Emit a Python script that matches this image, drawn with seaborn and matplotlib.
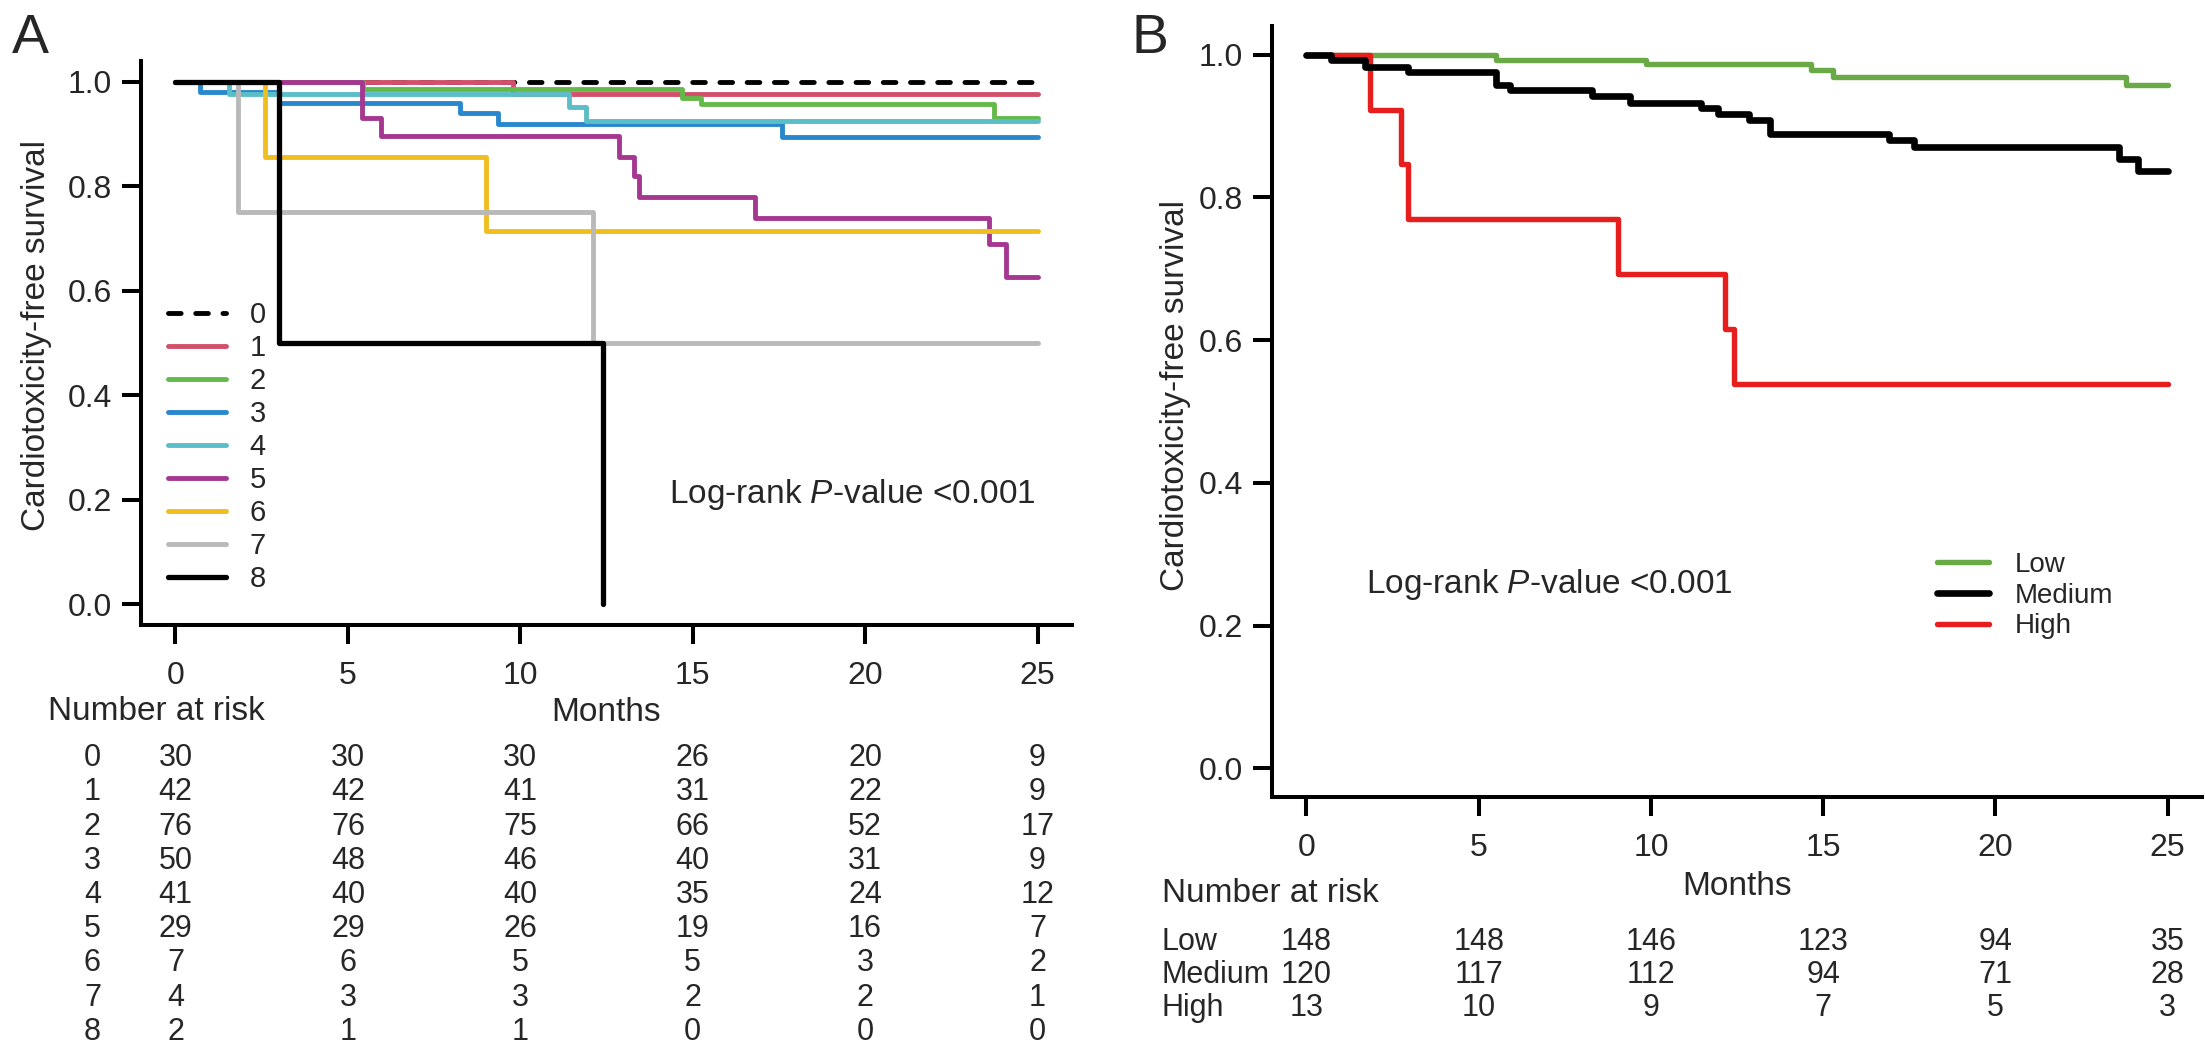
import numpy as np
import pandas as pd
import seaborn as sns
import matplotlib.pyplot as plt
from matplotlib.ticker import FormatStrFormatter

sns.set_style('ticks')
plt.rcParams['font.family'] = ['Liberation Sans', 'DejaVu Sans']
plt.rcParams['mathtext.fontset'] = 'custom'
plt.rcParams['mathtext.rm'] = 'Liberation Sans'
plt.rcParams['mathtext.it'] = 'Liberation Sans:italic'

month_ticks = [0, 5, 10, 15, 20, 25]

# panel A: Kaplan-Meier steps per score group
groups_a = ['0', '1', '2', '3', '4', '5', '6', '7', '8']
t_a0 = [0, 25]
s_a0 = [1.0, 1.0]
t_a1 = [0, 9.8, 25]
s_a1 = [1.0, 0.976, 0.976]
t_a2 = [0, 5.45, 14.7, 15.25, 23.75, 25]
s_a2 = [1.0, 0.987, 0.970, 0.957, 0.930, 0.930]
t_a3 = [0, 0.7, 3.0, 8.25, 9.35, 17.6, 25]
s_a3 = [1.0, 0.980, 0.960, 0.940, 0.920, 0.895, 0.895]
t_a4 = [0, 1.55, 11.4, 11.9, 25]
s_a4 = [1.0, 0.976, 0.951, 0.925, 0.925]
t_a5 = [0, 5.4, 5.95, 12.85, 13.3, 13.45, 16.8, 23.6, 24.1, 25]
s_a5 = [1.0, 0.931, 0.897, 0.857, 0.820, 0.779, 0.739, 0.690, 0.627, 0.627]
t_a6 = [0, 2.6, 9.0, 25]
s_a6 = [1.0, 0.857, 0.714, 0.714]
t_a7 = [0, 1.8, 12.1, 25]
s_a7 = [1.0, 0.75, 0.5, 0.5]
t_a8 = [0, 3.0, 12.4]
s_a8 = [1.0, 0.5, 0.0]
times_a = [t_a0, t_a1, t_a2, t_a3, t_a4, t_a5, t_a6, t_a7, t_a8]
surv_a = [s_a0, s_a1, s_a2, s_a3, s_a4, s_a5, s_a6, s_a7, s_a8]
colors_a = ['black', '#D2506A', '#64B94B', '#2887CD', '#5ABEC8',
            '#A53791', '#F0BE1E', '#B9B9B9', 'black']
risk_a = [[30, 30, 30, 26, 20, 9],
          [42, 42, 41, 31, 22, 9],
          [76, 76, 75, 66, 52, 17],
          [50, 48, 46, 40, 31, 9],
          [41, 40, 40, 35, 24, 12],
          [29, 29, 26, 19, 16, 7],
          [7, 6, 5, 5, 3, 2],
          [4, 3, 3, 2, 2, 1],
          [2, 1, 1, 0, 0, 0]]

# panel B: risk categories
groups_b = ['Low', 'Medium', 'High']
t_low = [0, 5.5, 9.85, 14.65, 15.3, 23.8, 25]
s_low = [1.0, 0.993, 0.987, 0.978, 0.969, 0.957, 0.957]
t_med = [0, 0.7, 1.7, 2.95, 5.5, 5.9, 8.3, 9.4, 11.45, 11.95, 12.85,
         13.45, 16.9, 17.65, 23.6, 24.15, 25]
s_med = [1.0, 0.992, 0.983, 0.975, 0.958, 0.950, 0.942, 0.932, 0.925,
         0.917, 0.908, 0.889, 0.880, 0.871, 0.854, 0.837, 0.837]
t_high = [0, 1.85, 2.75, 2.95, 9.05, 12.15, 12.4, 25]
s_high = [1.0, 0.923, 0.846, 0.769, 0.692, 0.615, 0.538, 0.538]
colors_b = ['#69AA46', 'black', '#E61E1E']
risk_b = [[148, 148, 146, 123, 94, 35],
          [120, 117, 112, 94, 71, 28],
          [13, 10, 9, 7, 5, 3]]

W, H = 2205, 1050


def px_axes(left, top, right, bottom):
    return [left / W, 1 - bottom / H, (right - left) / W, (bottom - top) / H]


def style_axis(ax):
    ax.set_xlim(-1, 26)
    ax.set_ylim(-0.04, 1.04)
    ax.set_xticks(month_ticks)
    ax.set_yticks([0, 0.2, 0.4, 0.6, 0.8, 1.0])
    ax.yaxis.set_major_formatter(FormatStrFormatter('%.1f'))
    for side in ['top', 'right']:
        ax.spines[side].set_visible(False)
    for side in ['left', 'bottom']:
        ax.spines[side].set_linewidth(2.9)
        ax.spines[side].set_color('black')
    ax.tick_params(axis='both', length=14, width=2.9, labelsize=23, color='black')
    ax.tick_params(axis='x', pad=12)
    ax.tick_params(axis='y', pad=7)


def step_line(ax, t, s, color, lw, ls='-'):
    sns.lineplot(x=t, y=s, ax=ax, color=color, linewidth=lw, linestyle=ls,
                 drawstyle='steps-post', estimator=None, sort=False, legend=False,
                 solid_capstyle='round', dash_capstyle='round', solid_joinstyle='round')


fig = plt.figure(figsize=(22.05, 10.5), dpi=100)

# ---- panel A
axA = fig.add_axes(px_axes(141, 61, 1072, 625))
for i in range(len(groups_a)):
    ls = (0, (2.6, 3.0)) if i == 0 else '-'
    lw = 3.8 if i == 8 else 3.5
    step_line(axA, times_a[i], surv_a[i], colors_a[i], lw, ls)
style_axis(axA)
axA.set_xlabel('Months', fontsize=24)
axA.xaxis.set_label_coords(0.5, -0.1277)
axA.set_ylabel('Cardiotoxicity-free survival', fontsize=24)
axA.yaxis.set_label_coords(-0.0956, 0.514)
axA.legend(axA.get_lines()[:9], groups_a, loc='upper left', bbox_to_anchor=(0.029, 0.574),
           frameon=False, fontsize=21, handlelength=2.0, handletextpad=0.8,
           labelspacing=0.17, borderpad=0, borderaxespad=0)
axA.text(14.3, 0.21, 'Log-rank $\\mathit{P}$-value <0.001', fontsize=24, ha='left', va='center')

tabA = fig.add_axes(px_axes(141, 741, 1072, 1049))
tabA.axis('off')
tabA.set_xlim(-1, 26)
tabA.set_ylim(len(risk_a) - 0.5, -0.5)
for r, row in enumerate(risk_a):
    tabA.text(-2.41, r, groups_a[r], ha='center', va='center', fontsize=22, clip_on=False)
    for m, v in zip(month_ticks, row):
        tabA.text(m, r, str(v), ha='center', va='center', fontsize=22)
fig.text(48 / W, 1 - 712 / H, 'Number at risk', ha='left', va='center', fontsize=24)
fig.text(12 / W, 1 - 53 / H, 'A', ha='left', va='baseline', fontsize=40)

# ---- panel B
axB = fig.add_axes(px_axes(1272, 26, 2202, 797))
step_line(axB, t_low, s_low, colors_b[0], 3.9)
step_line(axB, t_high, s_high, colors_b[2], 3.9)
step_line(axB, t_med, s_med, colors_b[1], 4.8)
style_axis(axB)
axB.set_xlabel('Months', fontsize=24)
axB.xaxis.set_label_coords(0.5, -0.096)
axB.set_ylabel('Cardiotoxicity-free survival', fontsize=24)
axB.yaxis.set_label_coords(-0.087, 0.521)
lines_b = axB.get_lines()
axB.legend([lines_b[0], lines_b[2], lines_b[1]], groups_b, loc='upper left',
           bbox_to_anchor=(0.715, 0.318), frameon=False, fontsize=20,
           handlelength=1.87, handletextpad=0.94, labelspacing=0.17,
           borderpad=0, borderaxespad=0)
axB.text(1.73, 0.257, 'Log-rank $\\mathit{P}$-value <0.001', fontsize=24, ha='left', va='center')

tabB = fig.add_axes(px_axes(1272, 925.5, 2202, 1024.5))
tabB.axis('off')
tabB.set_xlim(-1, 26)
tabB.set_ylim(len(risk_b) - 0.5, -0.5)
for r, row in enumerate(risk_b):
    tabB.text(-4.21, r, groups_b[r], ha='left', va='center', fontsize=22, clip_on=False)
    for m, v in zip(month_ticks, row):
        tabB.text(m, r, str(v), ha='center', va='center', fontsize=22)
fig.text(1162 / W, 1 - 893 / H, 'Number at risk', ha='left', va='center', fontsize=24)
fig.text(1132 / W, 1 - 53 / H, 'B', ha='left', va='baseline', fontsize=40)

fig.savefig('out.png', dpi=100, facecolor='white')
